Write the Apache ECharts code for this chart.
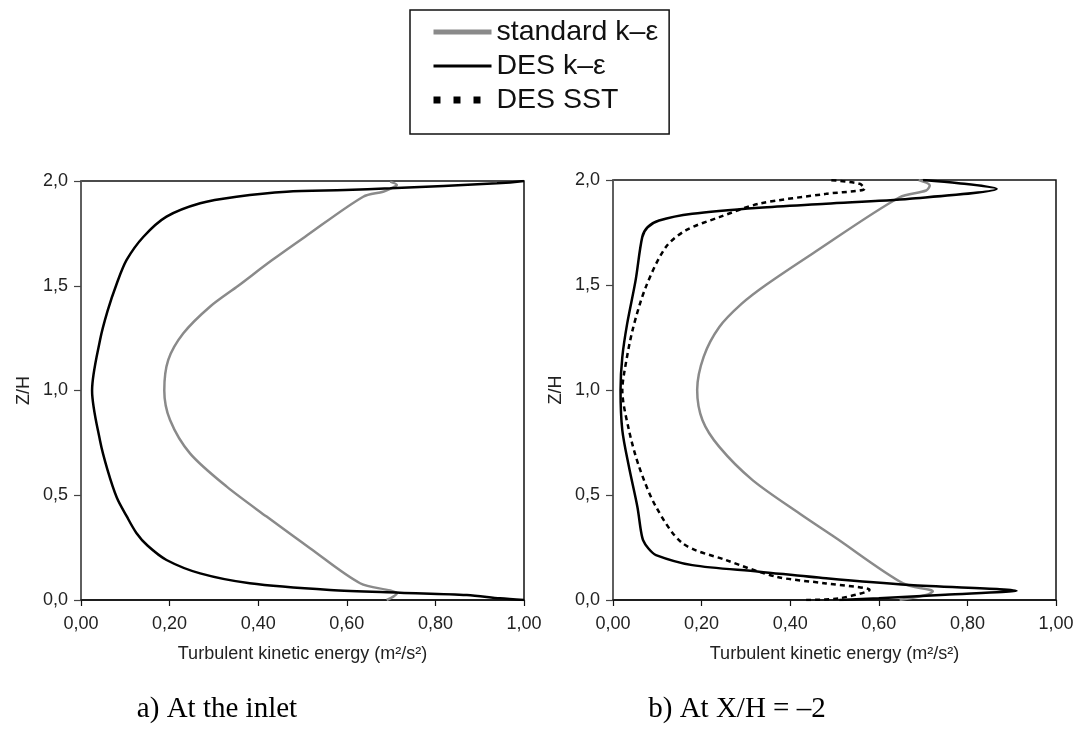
<!DOCTYPE html>
<html>
<head>
<meta charset="utf-8">
<script src="https://cdn.jsdelivr.net/npm/echarts@6/dist/echarts.min.js"></script>
<style>
html,body{margin:0;padding:0;background:#fff;}
#chart{width:1079px;height:738px;}
</style>
</head>
<body>
<div id="chart"></div>
<script>
// Series names
const seriesNames = ['standard k\u2013\u03b5', 'DES k\u2013\u03b5', 'DES SST'];
// Tick values
const xTicks = [0, 0.2, 0.4, 0.6, 0.8, 1.0];
const yTicks = [0, 0.5, 1.0, 1.5, 2.0];
const captions = ['a) At the inlet', 'b) At X/H = \u20132'];

// a) inlet: [TKE, Z/H]
const inletStandard = [[0.69,0.0],[0.705,0.016],[0.713,0.032],[0.698,0.045],[0.630,0.080],[0.517,0.247],[0.419,0.398],[0.329,0.541],[0.246,0.700],[0.201,0.859],[0.188,1.0],[0.197,1.146],[0.231,1.273],[0.291,1.400],[0.355,1.5],[0.43,1.62],[0.506,1.734],[0.637,1.925],[0.682,1.949],[0.705,1.970],[0.713,1.981],[0.698,1.997]];
const inletDES = [[1.0,0.0],[0.946,0.008],[0.871,0.024],[0.72,0.035],[0.562,0.048],[0.381,0.080],[0.269,0.127],[0.193,0.191],[0.150,0.26],[0.125,0.32],[0.103,0.40],[0.081,0.488],[0.060,0.62],[0.043,0.76],[0.025,1.0],[0.043,1.241],[0.060,1.38],[0.081,1.512],[0.103,1.623],[0.141,1.734],[0.193,1.830],[0.269,1.894],[0.351,1.925],[0.464,1.949],[0.596,1.957],[0.698,1.965],[0.939,1.989],[1.0,2.0]];

// b) X/H = -2
const x2Standard = [[0.647,0.0],[0.707,0.024],[0.722,0.040],[0.655,0.079],[0.50,0.30],[0.421,0.412],[0.315,0.571],[0.240,0.729],[0.202,0.856],[0.19,1.0],[0.205,1.16],[0.240,1.30],[0.290,1.41],[0.345,1.50],[0.450,1.649],[0.647,1.918],[0.707,1.950],[0.715,1.974],[0.69,2.0]];
const x2DES = [[0.511,0.0],[0.60,0.008],[0.75,0.025],[0.911,0.044],[0.670,0.071],[0.481,0.103],[0.330,0.135],[0.179,0.166],[0.097,0.214],[0.080,0.245],[0.068,0.285],[0.063,0.33],[0.055,0.444],[0.036,0.634],[0.021,0.809],[0.017,1.0],[0.021,1.157],[0.032,1.316],[0.051,1.522],[0.066,1.728],[0.078,1.775],[0.104,1.807],[0.179,1.839],[0.330,1.868],[0.481,1.887],[0.670,1.911],[0.866,1.958],[0.78,1.985],[0.70,2.0]];
const x2SST = [[0.436,0.0],[0.511,0.008],[0.579,0.048],[0.481,0.079],[0.368,0.111],[0.255,0.190],[0.157,0.270],[0.097,0.444],[0.059,0.634],[0.036,0.809],[0.021,1.0],[0.025,1.078],[0.044,1.284],[0.074,1.490],[0.119,1.680],[0.164,1.760],[0.240,1.823],[0.330,1.887],[0.481,1.934],[0.568,1.958],[0.557,1.982],[0.489,2.0]];

const FONT = 'Liberation Sans, Arial, sans-serif';
const GRAY = '#8a8a8a';
const CLEAR = 'rgba(0,0,0,0)';

function xAxisCfg(idx) {
  return {
    gridIndex: idx, type: 'value', min: xTicks[0], max: xTicks[xTicks.length-1], interval: 0.2,
    name: 'Turbulent kinetic energy (m\u00b2/s\u00b2)', nameLocation: 'middle', nameGap: 45,
    nameTextStyle: {fontFamily: FONT, fontSize: 18, color: '#222'},
    axisLine: {show: true, onZero: false, lineStyle: {color: '#111', width: 1.5}},
    axisTick: {show: true, inside: false, length: 6, lineStyle: {color: '#111', width: 1.2}},
    axisLabel: {margin: 15, fontFamily: FONT, fontSize: 18, color: '#222',
      formatter: v => v.toFixed(2).replace('.', ',')},
    splitLine: {show: false}
  };
}
function yAxisCfg(idx) {
  return {
    gridIndex: idx, type: 'value', min: yTicks[0], max: yTicks[yTicks.length-1], interval: 0.5,
    name: 'Z/H', nameLocation: 'middle', nameGap: 48, nameRotate: 90,
    nameTextStyle: {fontFamily: FONT, fontSize: 18, color: '#222'},
    axisLine: {show: true, onZero: false, lineStyle: {color: '#666', width: 1.5}},
    axisTick: {show: true, inside: false, length: 7, lineStyle: {color: '#444', width: 1.2}},
    axisLabel: {margin: 13, fontFamily: FONT, fontSize: 18, color: '#222',
      formatter: v => v.toFixed(1).replace('.', ',')},
    splitLine: {show: false}
  };
}
function lineSeries(name, data, xi, color, width, type) {
  return {
    name: name, type: 'line', xAxisIndex: xi, yAxisIndex: xi, data: data,
    showSymbol: false, symbol: 'none', smooth: 0.3, z: name === seriesNames[0] ? 2 : 3,
    lineStyle: {color: color, width: width, type: type || 'solid'},
    itemStyle: {color: color}
  };
}

const chart = echarts.init(document.getElementById('chart'), null, {renderer: 'canvas'});
chart.setOption({
  animation: false,
  backgroundColor: '#fff',
  grid: [
    {left: 81, top: 181, width: 443, height: 419, show: true, borderColor: '#111', borderWidth: 1.5, backgroundColor: 'transparent'},
    {left: 613, top: 180, width: 443, height: 420, show: true, borderColor: '#111', borderWidth: 1.5, backgroundColor: 'transparent'}
  ],
  xAxis: [xAxisCfg(0), xAxisCfg(1)],
  yAxis: [yAxisCfg(0), yAxisCfg(1)],
  legend: {
    orient: 'vertical', left: 410, top: 10,
    padding: [6, 11, 18, 20], itemGap: 2, itemWidth: 58, itemHeight: 14,
    borderColor: '#111', borderWidth: 1.5, backgroundColor: '#fff',
    textStyle: {fontFamily: FONT, fontSize: 28.5, lineHeight: 32, color: '#111'},
    data: [
      {name: seriesNames[0], itemStyle: {color: CLEAR, borderColor: CLEAR, borderWidth: 0}, lineStyle: {color: GRAY, width: 5}},
      {name: seriesNames[1], itemStyle: {color: CLEAR, borderColor: CLEAR, borderWidth: 0}, lineStyle: {color: '#000', width: 3}},
      {name: seriesNames[2], itemStyle: {color: CLEAR, borderColor: CLEAR, borderWidth: 0}, lineStyle: {color: '#000', width: 7, type: [7, 13]}}
    ]
  },
  series: [
    lineSeries(seriesNames[0], inletStandard, 0, GRAY, 2.5),
    lineSeries(seriesNames[1], inletDES, 0, '#000', 2.5),
    lineSeries(seriesNames[0], x2Standard, 1, GRAY, 2.5),
    lineSeries(seriesNames[1], x2DES, 1, '#000', 2.5),
    lineSeries(seriesNames[2], x2SST, 1, '#000', 2.5, [5, 4])
  ],
  graphic: [
    {type: 'text', x: 217, y: 709, style: {text: captions[0], font: '29px "Liberation Serif", "Times New Roman", serif', fill: '#000', align: 'center', verticalAlign: 'middle'}},
    {type: 'text', x: 737, y: 709, style: {text: captions[1], font: '29px "Liberation Serif", "Times New Roman", serif', fill: '#000', align: 'center', verticalAlign: 'middle'}}
  ]
});
</script>
</body>
</html>
